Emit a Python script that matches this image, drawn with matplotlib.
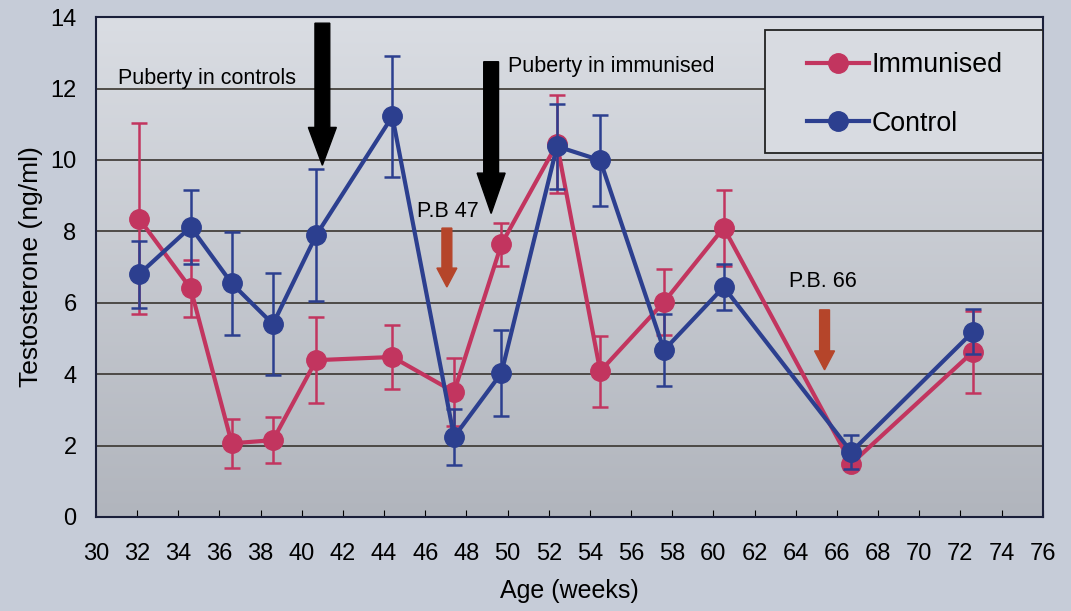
import matplotlib.pyplot as plt
import numpy as np
from matplotlib.lines import Line2D
from matplotlib.patches import Rectangle
from matplotlib.colors import LinearSegmentedColormap

plt.rcParams['font.family'] = ['Liberation Sans', 'DejaVu Sans']

# data (age in weeks, testosterone ng/ml)
weeks = [32.1, 34.6, 36.6, 38.6, 40.7, 44.4, 47.4, 49.7, 52.4, 54.5, 57.6, 60.5, 66.7, 72.6]
immunised = [8.35, 6.40, 2.06, 2.15, 4.39, 4.48, 3.50, 7.64, 10.45, 4.08, 6.02, 8.10, 1.49, 4.62]
immunised_err = [2.67, 0.80, 0.68, 0.65, 1.21, 0.90, 0.96, 0.60, 1.38, 1.00, 0.92, 1.07, 0.15, 1.15]
control = [6.80, 8.12, 6.54, 5.40, 7.89, 11.22, 2.24, 4.03, 10.38, 9.99, 4.67, 6.44, 1.82, 5.18]
control_err = [0.94, 1.03, 1.45, 1.42, 1.85, 1.70, 0.78, 1.20, 1.20, 1.27, 1.00, 0.64, 0.47, 0.63]

xticks = list(range(30, 77, 2))
yticks = list(range(0, 15, 2))

fig_bg = '#c6ccd8'
red = '#c2355f'
blue = '#2c3f8f'
arrow_red = '#b5452a'

fig = plt.figure(figsize=(10.71, 6.11), dpi=100, facecolor=fig_bg)
ax = fig.add_axes([0.0896, 0.154, 0.884, 0.818])
ax.set_xlim(30, 76)
ax.set_ylim(0, 14)

# gradient plot area
grad = np.linspace(0, 1, 256).reshape(-1, 1)
cmap = LinearSegmentedColormap.from_list('g', ['#dadde3', '#b1b5bd'])
ax.imshow(grad, extent=[0, 1, 0, 1], transform=ax.transAxes, aspect='auto', cmap=cmap, zorder=0)

for y in yticks[1:]:
    ax.axhline(y, color='#3a3530', lw=1.2, zorder=1)

ax.errorbar(weeks, immunised, yerr=immunised_err, color=red, lw=3, marker='o', ms=14,
            capsize=6, elinewidth=1.8, capthick=1.8, zorder=3)
ax.errorbar(weeks, control, yerr=control_err, color=blue, lw=3, marker='o', ms=14,
            capsize=6, elinewidth=1.8, capthick=1.8, zorder=4)

# arrows and notes
ax.arrow(41.0, 13.83, 0, -3.98, width=0.72, head_width=1.36, head_length=1.06,
         length_includes_head=True, color='black', zorder=5)
ax.arrow(49.2, 12.75, 0, -4.25, width=0.72, head_width=1.36, head_length=1.13,
         length_includes_head=True, color='black', zorder=5)
ax.arrow(47.05, 8.09, 0, -1.65, width=0.48, head_width=0.97, head_length=0.53,
         length_includes_head=True, color=arrow_red, zorder=5)
ax.arrow(65.4, 5.8, 0, -1.68, width=0.48, head_width=0.97, head_length=0.53,
         length_includes_head=True, color=arrow_red, zorder=5)

ax.text(31.05, 12.27, 'Puberty in controls', fontsize=15.5, va='center')
ax.text(50.0, 12.62, 'Puberty in immunised', fontsize=15.5, va='center')
ax.text(47.1, 8.55, 'P.B 47', fontsize=15.5, ha='center', va='center')
ax.text(65.3, 6.6, 'P.B. 66', fontsize=15.5, ha='center', va='center')

ax.set_xticks(xticks)
ax.set_yticks(yticks)
ax.tick_params(axis='x', direction='in', length=5, labelsize=17, pad=19)
ax.tick_params(axis='y', length=0, labelsize=17, pad=14)
ax.set_xlabel('Age (weeks)', fontsize=18, labelpad=10)
ax.set_ylabel('Testosterone (ng/ml)', fontsize=19, labelpad=5)
for s in ax.spines.values():
    s.set_color('#1a1f3a')
    s.set_linewidth(1.5)

# legend box
ax.add_patch(Rectangle((0.7065, 0.728), 0.2935, 0.246, transform=ax.transAxes,
                       facecolor='#d8dbe1', edgecolor='#222222', lw=1.3, zorder=9))
handles = [Line2D([], [], color=red, lw=3, marker='o', ms=14),
           Line2D([], [], color=blue, lw=3, marker='o', ms=14)]
leg = ax.legend(handles, ['Immunised', 'Control'], loc='upper left',
                bbox_to_anchor=(0.751, 0.93), fontsize=19.3, frameon=False,
                handlelength=2.3, borderpad=0, labelspacing=1.22, handletextpad=0.12,
                borderaxespad=0)
leg.set_zorder(10)

fig.savefig('out.png', dpi=100, facecolor=fig_bg)
